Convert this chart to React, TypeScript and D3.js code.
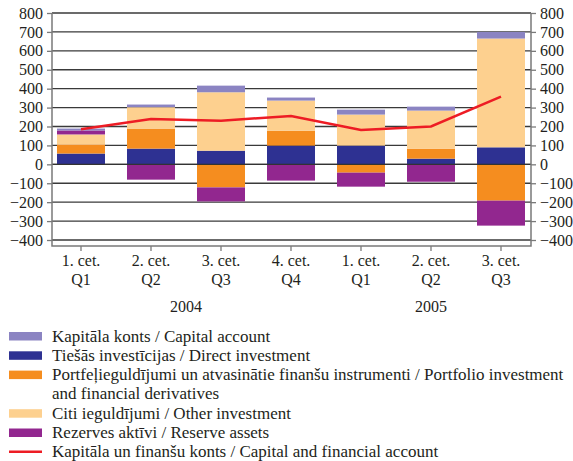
import { useRef, useEffect } from "react"
import * as d3 from "d3"

const quarters = ["1. cet.|Q1", "2. cet.|Q2", "3. cet.|Q3", "4. cet.|Q4", "1. cet.|Q1 ", "2. cet.|Q2 ", "3. cet.|Q3 "]
const years = [
  { label: "2004", from: 0, to: 3 },
  { label: "2005", from: 4, to: 6 },
]
const capital = [10, 14, 35, 16, 26, 21, 35]
const direct = [57, 83, 72, 99, 99, 30, 90]
const portfolio = [48, 106, -122, 79, -44, 53, -192]
const other = [53, 113, 309, 159, 164, 201, 575]
const reserve = [21, -81, -74, -86, -74, -92, -132]
const total = [185, 240, 231, 256, 182, 200, 358]
const yTicks = [-400, -300, -200, -100, 0, 100, 200, 300, 400, 500, 600, 700, 800]

const series = [
  { key: "capital", label: "Kapitāla konts / Capital account", color: "#8b84c2", values: capital },
  { key: "direct", label: "Tiešās investīcijas / Direct investment", color: "#2e3192", values: direct },
  { key: "portfolio", label: "Portfeļieguldījumi un atvasinātie finanšu instrumenti / Portfolio investment|and financial derivatives", color: "#f58d1f", values: portfolio },
  { key: "other", label: "Citi ieguldījumi / Other investment", color: "#fdd08f", values: other },
  { key: "reserve", label: "Rezerves aktīvi / Reserve assets", color: "#92278f", values: reserve },
]
const lineLabel = "Kapitāla un finanšu konts / Capital and financial account"
const stackOrder = ["direct", "portfolio", "other", "reserve", "capital"]

export default function App() {
  const svgRef = useRef<SVGSVGElement>(null)
  useEffect(() => {
    const width = 573, height = 461
    const svg = d3.select(svgRef.current)
    svg.selectAll("*").remove()
    svg.attr("width", width).attr("height", height)
    const font = "'Liberation Serif', 'Times New Roman', serif"
    const ink = "#231f20"

    const left = 52, right = 531, boxBottom = 246
    const x = d3.scaleBand<string>().domain(quarters).range([46, 536]).paddingInner(22 / 70).paddingOuter(11 / 70)
    const y = d3.scaleLinear().domain([-400, 800]).range([240, 13])

    const rows = quarters.map((q, i) => {
      const r: any = { q }
      series.forEach(s => { r[s.key] = s.values[i] })
      return r
    })
    const stacked = d3.stack<any>().keys(stackOrder).offset(d3.stackOffsetDiverging)(rows)
    const colorOf = (k: string) => series.find(s => s.key === k)!.color

    // grid
    svg.append("g").selectAll("line").data(yTicks).enter().append("line")
      .attr("x1", left).attr("x2", right)
      .attr("y1", d => y(d)).attr("y2", d => y(d))
      .attr("stroke", "#3a3a3a").attr("stroke-width", 1.3)

    // bars
    svg.append("g").selectAll("g").data(stacked).enter().append("g")
      .attr("fill", d => colorOf(d.key))
      .selectAll("rect").data(d => d).enter().append("rect")
      .attr("x", d => x(d.data.q)!)
      .attr("width", x.bandwidth())
      .attr("y", d => y(Math.max(d[0], d[1])))
      .attr("height", d => Math.abs(y(d[0]) - y(d[1])))

    // zero line on top
    svg.append("line").attr("x1", left).attr("x2", right).attr("y1", y(0)).attr("y2", y(0))
      .attr("stroke", "#333").attr("stroke-width", 1.3)

    // frame
    svg.append("path").attr("d", `M${left},${y(800)}V${boxBottom}H${right}V${y(800)}`)
      .attr("stroke", "#7a7a7a").attr("stroke-width", 1.5).attr("fill", "none")

    // total line
    const line = d3.line<number>().x((_, i) => x(quarters[i])! + x.bandwidth() / 2).y(d => y(d))
    svg.append("path").datum(total).attr("d", line).attr("fill", "none")
      .attr("stroke", "#ed1c24").attr("stroke-width", 2.5)

    // y axes
    const fmt = (d: number) => (d < 0 ? "\u2212" + Math.abs(d) : String(d))
    const la = svg.append("g").attr("transform", `translate(${left},0)`)
      .call(d3.axisLeft(y).tickValues(yTicks).tickSize(5).tickPadding(4).tickFormat(d => fmt(+d)))
    const ra = svg.append("g").attr("transform", `translate(${right},0)`)
      .call(d3.axisRight(y).tickValues(yTicks).tickSize(5).tickPadding(4).tickFormat(d => fmt(+d)))
    ;[la, ra].forEach(a => {
      a.select(".domain").remove()
      a.selectAll("line").attr("stroke", "#7a7a7a").attr("stroke-width", 1.3)
      a.selectAll("text").attr("font-family", font).attr("font-size", 16).attr("fill", ink)
    })

    // x axis
    const xa = svg.append("g").attr("transform", `translate(0,${boxBottom})`)
      .call(d3.axisBottom(x).tickSize(5).tickFormat(() => ""))
    xa.select(".domain").remove()
    xa.selectAll("line").attr("stroke", "#7a7a7a").attr("stroke-width", 1.3)
    xa.selectAll(".tick").each(function (d: any) {
      const [a, b] = String(d).split("|")
      const t = d3.select(this).append("text").attr("font-family", font).attr("font-size", 16)
        .attr("fill", ink).attr("text-anchor", "middle")
      t.append("tspan").attr("x", 0).attr("y", 20).text(a)
      t.append("tspan").attr("x", 0).attr("y", 39).text(b.trim())
    })
    svg.append("g").selectAll("text").data(years).enter().append("text")
      .attr("x", d => (x(quarters[d.from])! + x(quarters[d.to])!) / 2 + x.bandwidth() / 2)
      .attr("y", 312).attr("text-anchor", "middle")
      .attr("font-family", font).attr("font-size", 16).attr("fill", ink)
      .text(d => d.label)

    // legend
    const lg = svg.append("g").attr("font-family", font).attr("font-size", 17).attr("fill", ink)
    let ly = 336
    series.forEach(s => {
      lg.append("rect").attr("x", 9).attr("y", ly - 4).attr("width", 33).attr("height", 8.5).attr("fill", s.color)
      const parts = s.label.split("|")
      parts.forEach((p, j) => {
        lg.append("text").attr("x", 52).attr("y", ly + 5.5 + j * 19.3).text(p)
      })
      ly += 19.3 * parts.length
    })
    lg.append("line").attr("x1", 9).attr("x2", 42).attr("y1", ly).attr("y2", ly)
      .attr("stroke", "#ed1c24").attr("stroke-width", 2.5)
    lg.append("text").attr("x", 52).attr("y", ly + 5.5).text(lineLabel)
  }, [])
  return (
    <div style={{ position: "absolute", left: 0, top: 0 }}>
      <svg ref={svgRef}></svg>
    </div>
  )
}
